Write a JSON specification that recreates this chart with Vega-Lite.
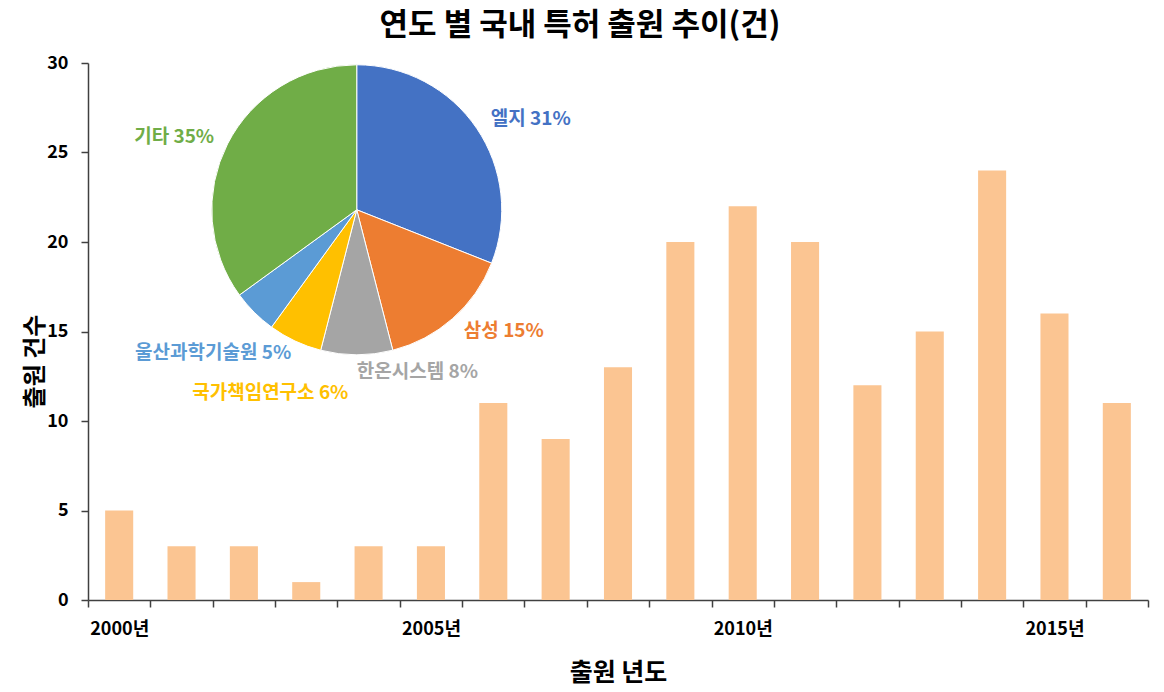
{
  "$schema": "https://vega.github.io/schema/vega-lite/v6.json",
  "width": 1060,
  "height": 537,
  "autosize": {"type": "none"},
  "padding": {"left": 88, "top": 63, "right": 16, "bottom": 92},
  "background": "white",
  "config": {
    "font": "Noto Sans CJK KR",
    "view": {"stroke": null}
  },
  "title": {
    "text": "연도 별 국내 특허 출원 추이(건)",
    "font": "Noto Sans CJK KR",
    "fontSize": 31,
    "fontWeight": "bold",
    "color": "#000000",
    "anchor": "middle",
    "dx": -38,
    "offset": 12
  },
  "datasets": {
    "bars": [
      {"year": 2000, "count": 5},
      {"year": 2001, "count": 3},
      {"year": 2002, "count": 3},
      {"year": 2003, "count": 1},
      {"year": 2004, "count": 3},
      {"year": 2005, "count": 3},
      {"year": 2006, "count": 11},
      {"year": 2007, "count": 9},
      {"year": 2008, "count": 13},
      {"year": 2009, "count": 20},
      {"year": 2010, "count": 22},
      {"year": 2011, "count": 20},
      {"year": 2012, "count": 12},
      {"year": 2013, "count": 15},
      {"year": 2014, "count": 24},
      {"year": 2015, "count": 16},
      {"year": 2016, "count": 11}
    ],
    "pie": [
      {"rank": 1, "name": "엘지", "pct": 31},
      {"rank": 2, "name": "삼성", "pct": 15},
      {"rank": 3, "name": "한온시스템", "pct": 8},
      {"rank": 4, "name": "국가책임연구소", "pct": 6},
      {"rank": 5, "name": "울산과학기술원", "pct": 5},
      {"rank": 6, "name": "기타", "pct": 35}
    ]
  },
  "layer": [
    {
      "data": {"name": "bars"},
      "mark": {"type": "bar", "color": "#FBC592", "width": {"band": 0.45}},
      "encoding": {
        "x": {
          "field": "year",
          "type": "ordinal",
          "scale": {"paddingInner": 0, "paddingOuter": 0},
          "axis": {
            "title": "출원 년도",
            "titleFontSize": 25,
            "titleFontWeight": "bold",
            "titleColor": "#000000",
            "titleY": 72,
            "titleBaseline": "middle",
            "labelAngle": 0,
            "labelFontSize": 18,
            "labelFontWeight": "bold",
            "labelColor": "#000000",
            "labelPadding": 13,
            "labelExpr": "datum.value % 5 == 0 ? datum.value + '년' : ''",
            "tickBand": "extent",
            "tickSize": 7,
            "tickColor": "#404040",
            "tickWidth": 1.5,
            "domainColor": "#404040",
            "domainWidth": 1.5
          }
        },
        "y": {
          "field": "count",
          "type": "quantitative",
          "scale": {"domain": [0, 30], "nice": false},
          "axis": {
            "title": "출원 건수",
            "titleFontSize": 24,
            "titleFontWeight": "bold",
            "titleColor": "#000000",
            "titleX": -53,
            "titleY": 298,
            "titleAlign": "center",
            "titleBaseline": "middle",
            "values": [0, 5, 10, 15, 20, 25, 30],
            "grid": false,
            "labelFontSize": 18,
            "labelFontWeight": "bold",
            "labelColor": "#000000",
            "labelPadding": 13,
            "tickSize": 7,
            "tickColor": "#404040",
            "tickWidth": 1.5,
            "domainColor": "#404040",
            "domainWidth": 1.5
          }
        }
      }
    },
    {
      "data": {"name": "pie"},
      "mark": {"type": "arc", "radius": 145, "stroke": "#ffffff", "strokeWidth": 1},
      "encoding": {
        "x": {"datum": 2004, "type": "ordinal", "bandPosition": 0.31},
        "y": {"datum": 21.8, "type": "quantitative"},
        "theta": {"field": "pct", "type": "quantitative", "stack": true, "scale": {"domain": [0, 100]}},
        "order": {"field": "rank", "type": "quantitative"},
        "color": {
          "field": "name",
          "type": "nominal",
          "scale": {
            "domain": ["엘지", "삼성", "한온시스템", "국가책임연구소", "울산과학기술원", "기타"],
            "range": ["#4472C4", "#ED7D31", "#A5A5A5", "#FFC000", "#5B9BD5", "#70AD47"]
          },
          "legend": null
        }
      }
    },
    {
      "data": {"name": "pie"},
      "transform": [
        {"window": [{"op": "sum", "field": "pct", "as": "cum"}], "sort": [{"field": "rank"}]},
        {"calculate": "datum.cum - datum.pct / 2", "as": "mid"},
        {"calculate": "datum.name + ' ' + datum.pct + '%'", "as": "label"},
        {"filter": "datum.rank <= 3"}
      ],
      "mark": {"type": "text", "radius": 162, "fontSize": 19, "fontWeight": "bold", "align": "left", "baseline": "middle"},
      "encoding": {
        "x": {"datum": 2004, "type": "ordinal", "bandPosition": 0.31},
        "y": {"datum": 21.8, "type": "quantitative"},
        "theta": {"field": "mid", "type": "quantitative", "scale": {"domain": [0, 100]}},
        "text": {"field": "label", "type": "nominal"},
        "color": {"field": "name", "type": "nominal", "legend": null}
      }
    },
    {
      "data": {"name": "pie"},
      "transform": [
        {"window": [{"op": "sum", "field": "pct", "as": "cum"}], "sort": [{"field": "rank"}]},
        {"calculate": "datum.cum - datum.pct / 2", "as": "mid"},
        {"calculate": "datum.name + ' ' + datum.pct + '%'", "as": "label"},
        {"filter": "datum.rank == 4 || datum.rank == 5"}
      ],
      "mark": {"type": "text", "radius": 203, "fontSize": 19, "fontWeight": "bold", "align": "center", "baseline": "middle"},
      "encoding": {
        "x": {"datum": 2004, "type": "ordinal", "bandPosition": 0.31},
        "y": {"datum": 21.8, "type": "quantitative"},
        "theta": {"field": "mid", "type": "quantitative", "scale": {"domain": [0, 100]}},
        "text": {"field": "label", "type": "nominal"},
        "color": {"field": "name", "type": "nominal", "legend": null}
      }
    },
    {
      "data": {"name": "pie"},
      "transform": [
        {"window": [{"op": "sum", "field": "pct", "as": "cum"}], "sort": [{"field": "rank"}]},
        {"calculate": "datum.cum - datum.pct / 2", "as": "mid"},
        {"calculate": "datum.name + ' ' + datum.pct + '%'", "as": "label"},
        {"filter": "datum.rank == 6"}
      ],
      "mark": {"type": "text", "radius": 160, "fontSize": 19, "fontWeight": "bold", "align": "right", "baseline": "middle"},
      "encoding": {
        "x": {"datum": 2004, "type": "ordinal", "bandPosition": 0.31},
        "y": {"datum": 21.8, "type": "quantitative"},
        "theta": {"field": "mid", "type": "quantitative", "scale": {"domain": [0, 100]}},
        "text": {"field": "label", "type": "nominal"},
        "color": {"field": "name", "type": "nominal", "legend": null}
      }
    }
  ]
}
